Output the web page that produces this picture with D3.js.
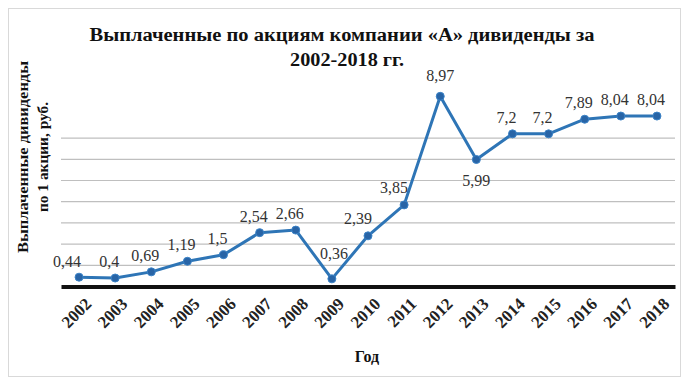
<!DOCTYPE html>
<html>
<head>
<meta charset="utf-8">
<script src="https://cdn.jsdelivr.net/npm/d3@7"></script>
<style>
  body { margin: 0; background: #fff; }
  text { font-family: "Liberation Serif", "Times New Roman", serif; }
</style>
</head>
<body>
<div id="app"></div>
<script>
// Годы и выплаченные дивиденды на 1 акцию, руб.
const years = ['2002', '2003', '2004', '2005', '2006', '2007', '2008', '2009', '2010',
               '2011', '2012', '2013', '2014', '2015', '2016', '2017', '2018'];
const dividends = [0.44, 0.4, 0.69, 1.19, 1.5, 2.54, 2.66, 0.36, 2.39,
                   3.85, 8.97, 5.99, 7.2, 7.2, 7.89, 8.04, 8.04];
const gridValues = [1, 2, 3, 4, 5, 6, 7];

const width = 682;
const height = 377;
const margin = { left: 61, right: 7, top: 75, bottom: 90.5 };

const svg = d3.select('#app')
  .append('svg')
  .attr('width', width)
  .attr('height', height);

// рамка диаграммы
svg.append('rect')
  .attr('x', 8.5).attr('y', 8.5)
  .attr('width', width - 10).attr('height', height - 9)
  .attr('fill', 'none')
  .attr('stroke', '#d9d9d9');

const xScale = d3.scaleBand()
  .domain(years)
  .range([margin.left, width - margin.right]);

const yScale = d3.scaleLinear()
  .domain([0, 10])
  .range([height - margin.bottom, height - margin.bottom - 212]);

const fmt = v => String(v).replace('.', ',');

// сетка
svg.append('g')
  .selectAll('line')
  .data(gridValues)
  .join('line')
  .attr('x1', margin.left)
  .attr('x2', width - margin.right)
  .attr('y1', d => yScale(d))
  .attr('y2', d => yScale(d))
  .attr('stroke', '#bfbfbf')
  .attr('stroke-width', 1.2);

// ось X
const xAxis = svg.append('g')
  .attr('transform', `translate(0, ${yScale(0)})`)
  .call(d3.axisBottom(xScale).tickSize(0).tickPadding(6));

xAxis.select('.domain')
  .attr('stroke', '#111')
  .attr('stroke-width', 4);

xAxis.selectAll('text')
  .attr('font-family', '"Liberation Serif", serif')
  .attr('font-size', 17)
  .attr('font-weight', 'bold')
  .attr('fill', '#222')
  .attr('text-anchor', 'end')
  .attr('dy', '0.35em')
  .attr('transform', 'translate(5, 10) rotate(-45)');

// линия
const pts = years.map((y, i) => ({ year: y, value: dividends[i] }));

svg.append('path')
  .datum(pts)
  .attr('fill', 'none')
  .attr('stroke', '#2e75b6')
  .attr('stroke-width', 3)
  .attr('stroke-linejoin', 'round')
  .attr('d', d3.line()
    .x(d => xScale(d.year) + xScale.bandwidth() / 2)
    .y(d => yScale(d.value)));

svg.append('g')
  .selectAll('circle')
  .data(pts)
  .join('circle')
  .attr('cx', d => xScale(d.year) + xScale.bandwidth() / 2)
  .attr('cy', d => yScale(d.value))
  .attr('r', 4)
  .attr('fill', '#2864a6')
  .attr('stroke', '#3b83c7')
  .attr('stroke-width', 1);

// подписи значений
function labelPos(d) {
  const x = xScale(d.year) + xScale.bandwidth() / 2;
  const y = yScale(d.value);
  if (d.year === '2013') return [x, y + 26];
  if (d.year === '2009') return [x + 2, y - 20];
  if (d.year === '2002') return [x - 12, y - 10];
  if (d.year === '2011' || d.year === '2010') return [x - 10, y - 12];
  if (d.year === '2012') return [x, y - 15];
  return [x - 6, y - 11];
}

svg.append('g')
  .selectAll('text')
  .data(pts)
  .join('text')
  .attr('x', d => labelPos(d)[0])
  .attr('y', d => labelPos(d)[1])
  .attr('text-anchor', 'middle')
  .attr('font-size', 16)
  .attr('fill', '#333')
  .text(d => fmt(d.value));

// заголовок
const title = svg.append('text')
  .attr('text-anchor', 'middle')
  .attr('font-size', 18)
  .attr('font-weight', 'bold')
  .attr('fill', '#111');
title.append('tspan')
  .attr('x', 342).attr('y', 41)
  .attr('textLength', 505)
  .attr('lengthAdjust', 'spacingAndGlyphs')
  .text('Выплаченные по акциям компании «А» дивиденды за');
title.append('tspan')
  .attr('x', 347).attr('y', 66)
  .attr('textLength', 114)
  .attr('lengthAdjust', 'spacingAndGlyphs')
  .text('2002-2018 гг.');

// подпись оси Y
const yTitle = svg.append('text')
  .attr('transform', 'translate(28, 157) rotate(-90)')
  .attr('text-anchor', 'middle')
  .attr('font-size', 15)
  .attr('font-weight', 'bold')
  .attr('fill', '#111');
yTitle.append('tspan').attr('x', 0)
  .attr('textLength', 192)
  .attr('lengthAdjust', 'spacingAndGlyphs')
  .text('Выплаченные дивиденды');
yTitle.append('tspan').attr('x', 0).attr('dy', 20)
  .attr('textLength', 110)
  .attr('lengthAdjust', 'spacingAndGlyphs')
  .text('по 1 акции, руб.');

// подпись оси X
svg.append('text')
  .attr('x', 367)
  .attr('y', 362)
  .attr('text-anchor', 'middle')
  .attr('font-size', 16)
  .attr('font-weight', 'bold')
  .attr('fill', '#111')
  .text('Год');
</script>
</body>
</html>
